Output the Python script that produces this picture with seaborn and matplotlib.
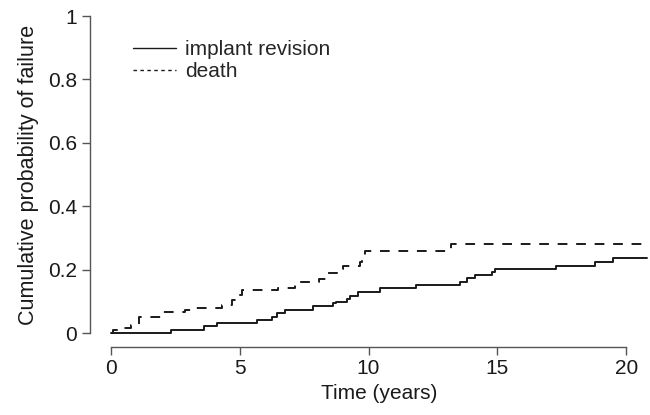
import matplotlib
matplotlib.use("Agg")
import matplotlib.pyplot as plt
import seaborn as sns
import pandas as pd

# Implant revision (cumulative probability, step function)
rev_time = [0.0, 2.33, 3.6, 4.11, 5.66, 6.27, 6.45, 6.75, 7.84, 8.64, 8.72,
            9.15, 9.27, 9.6, 10.44, 11.86, 13.54, 13.8, 14.12, 14.77, 14.92,
            17.28, 18.8, 19.48, 20.8]
rev_prob = [0.0, 0.0105, 0.021, 0.031, 0.042, 0.052, 0.063, 0.073, 0.084, 0.094, 0.099,
            0.108, 0.118, 0.130, 0.141, 0.151, 0.162, 0.172, 0.182, 0.192, 0.202,
            0.212, 0.225, 0.2375, 0.2375]

# Death (cumulative probability, step function)
death_time = [0.0, 0.1, 0.4, 0.8, 1.1, 2.0, 2.9, 3.3, 4.3, 4.7, 4.95, 5.1, 6.5,
              7.14, 8.08, 8.34, 8.76, 9.0, 9.65, 9.75, 9.85, 13.2, 20.8]
death_prob = [0.0, 0.008, 0.016, 0.025, 0.05, 0.065, 0.072, 0.078, 0.088, 0.105, 0.12, 0.136, 0.143,
              0.162, 0.170, 0.190, 0.201, 0.211, 0.225, 0.245, 0.26, 0.281, 0.281]

x_ticks = [0, 5, 10, 15, 20]
y_ticks = [0, 0.2, 0.4, 0.6, 0.8, 1]
y_ticklabels = ["0", "0.2", "0.4", "0.6", "0.8", "1"]

sns.set_style("ticks")
plt.rcParams["font.family"] = ["Liberation Sans", "DejaVu Sans"]

W, H = 650, 415
fig = plt.figure(figsize=(W / 100, H / 100), dpi=100)
ax = fig.add_axes([110.7 / W, 82 / H, (647 - 110.7) / W, 317 / H])

df_rev = pd.DataFrame({"t": rev_time, "p": rev_prob})
df_death = pd.DataFrame({"t": death_time, "p": death_prob})

sns.lineplot(data=df_rev, x="t", y="p", ax=ax, drawstyle="steps-post",
             color="#1a1a1a", linewidth=1.4, label="implant revision", clip_on=False)
sns.lineplot(data=df_death, x="t", y="p", ax=ax, drawstyle="steps-post",
             color="#1a1a1a", linewidth=1.4, dashes=(5, 4.5), label="death", clip_on=False)

ax.set_xlim(0, 20.8)
ax.set_ylim(0, 1)
ax.set_xticks(x_ticks)
ax.set_xticklabels([str(v) for v in x_ticks])
ax.set_yticks(y_ticks)
ax.set_yticklabels(y_ticklabels)

for side in ["top", "right"]:
    ax.spines[side].set_visible(False)
ax.spines["left"].set_position(("outward", 15))
ax.spines["bottom"].set_position(("outward", 10))
ax.spines["left"].set_bounds(0, 1)
ax.spines["bottom"].set_bounds(0, 20)
for side in ["left", "bottom"]:
    ax.spines[side].set_color("#555555")
    ax.spines[side].set_linewidth(1.0)
ax.tick_params(axis="both", length=6, width=1.0, color="#555555",
               labelsize=15, labelcolor="#1a1a1a", pad=3)

ax.set_xlabel("Time (years)", fontsize=15, color="#1a1a1a", labelpad=4)
ax.set_ylabel("Cumulative probability of failure", fontsize=15.5, color="#1a1a1a", labelpad=7)

leg = ax.legend(loc="upper left", bbox_to_anchor=(133 / W, (H - 40) / H),
                bbox_transform=fig.transFigure, frameon=False,
                fontsize=15, handlelength=2.05, handletextpad=0.45,
                labelspacing=0.15, borderaxespad=0, borderpad=0)
for line in leg.get_lines():
    line.set_linewidth(1.0)
leg.get_lines()[1].set_dashes((2.5, 2.5))

fig.savefig("out.png", dpi=100)
